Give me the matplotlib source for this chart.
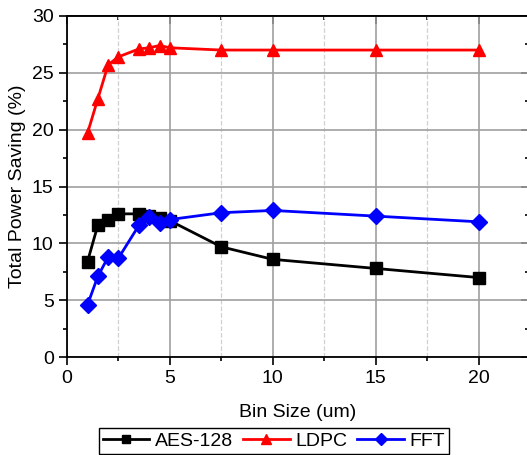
import matplotlib.pyplot as plt
from matplotlib.ticker import MultipleLocator

plt.rcParams['font.family'] = ['Liberation Sans', 'DejaVu Sans']

# bin sizes (um) and power saving per design (%)
bin_size = [1, 1.5, 2, 2.5, 3.5, 4, 4.5, 5, 7.5, 10, 15, 20]
aes_128 = [8.4, 11.6, 12.1, 12.6, 12.6, 12.4, 12.2, 12.0, 9.7, 8.6, 7.8, 7.0]
ldpc = [19.7, 22.7, 25.7, 26.4, 27.1, 27.2, 27.4, 27.2, 27.0, 27.0, 27.0, 27.0]
fft = [4.6, 7.1, 8.8, 8.7, 11.6, 12.3, 11.8, 12.1, 12.7, 12.9, 12.4, 11.9]

fig = plt.figure(figsize=(5.27, 4.55), dpi=100)
ax = fig.add_axes([0.127, 0.215, 0.877, 0.75])

ax.plot(bin_size, aes_128, color='black', marker='s', ms=8, lw=2, label='AES-128', zorder=3)
ax.plot(bin_size, ldpc, color='red', marker='^', ms=9, lw=2, label='LDPC', zorder=3)
ax.plot(bin_size, fft, color='blue', marker='D', ms=8, lw=2, label='FFT', zorder=3)

ax.set_xlim(0, 22.45)
ax.set_ylim(0, 30)
for axis in (ax.xaxis, ax.yaxis):
    axis.set_major_locator(MultipleLocator(5))
    axis.set_minor_locator(MultipleLocator(2.5))

ax.grid(which='major', color='#a0a0a0', lw=1.2, ls='-')
ax.grid(which='minor', axis='x', color='#d0d0d0', lw=0.9, ls='--')
ax.set_axisbelow(True)

ax.tick_params(which='both', labelsize=14, width=1.2, direction='out')
ax.tick_params(which='major', length=6)
ax.tick_params(which='minor', length=3)
for s in ax.spines.values():
    s.set_linewidth(1.3)

# inward ticks on the top and right edges
top = ax.secondary_xaxis('top')
right = ax.secondary_yaxis('right')
for sec in (top, right):
    for axis in (sec.xaxis, sec.yaxis):
        axis.set_major_locator(MultipleLocator(5))
        axis.set_minor_locator(MultipleLocator(2.5))
    sec.tick_params(which='both', direction='in', width=1.2, labelleft=False,
                    labelright=False, labeltop=False, labelbottom=False)
    sec.tick_params(which='major', length=6)
    sec.tick_params(which='minor', length=3)
    for s in sec.spines.values():
        s.set_linewidth(1.3)

ax.set_xlabel('Bin Size (um)', fontsize=14, labelpad=12)
ax.set_ylabel('Total Power Saving (%)', fontsize=14)

ax.legend(loc='upper center', bbox_to_anchor=(0.448, -0.18), ncol=3, fontsize=14,
          frameon=True, fancybox=False, edgecolor='black', framealpha=1,
          handlelength=2.4, handletextpad=0.3, columnspacing=0.5, borderpad=0.2,
          markerscale=0.8)

fig.savefig('out.png', dpi=100)
